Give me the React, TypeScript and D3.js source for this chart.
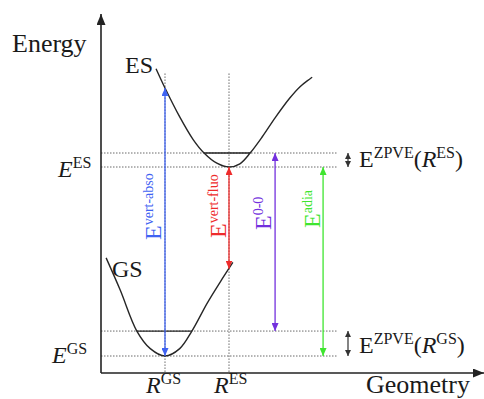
import React from "react";
import * as d3 from "d3";

// ---- data (geometry units, energy units) ----
const rGS = 1.0;
const rES = 2.0;
const levelNames = ["E_GS", "ZPVE_GS", "E_ES", "ZPVE_ES"];
const levelValues = [0, 1.32, 10, 10.74];

const esCurveX = [0.86, 1.0, 1.23, 1.44, 1.61, 1.81, 2.0, 2.17, 2.33, 2.52, 2.72, 2.95, 3.11, 3.3];
const esCurveY = [15.2, 14.18, 12.65, 11.45, 10.74, 10.2, 10.0, 10.17, 10.74, 11.6, 12.6, 13.65, 14.25, 14.75];

const gsCurveX = [0.08, 0.3, 0.56, 0.77, 1.0, 1.23, 1.42, 1.66, 1.86, 2.06];
const gsCurveY = [5.19, 3.49, 1.32, 0.39, 0.0, 0.39, 1.32, 2.8, 3.9, 4.95];

const transitionNames = ["vert-abso", "vert-fluo", "0-0", "adia"];
const transitionX = [1.0, 2.0, 2.72, 3.47];
const transitionFrom = [0, 4.62, 1.32, 0];
const transitionTo = [14.18, 10, 10.74, 10];
const transitionColors = ["#3f63f2", "#ee2b2b", "#7330dd", "#3fe52f"];

const W = 484;
const H = 399;
const FONT = "'Liberation Serif', 'Times New Roman', serif";

export default function App() {
  const x = d3.scaleLinear().domain([0, 5.9375]).range([101, 481]);
  const y = d3.scaleLinear().domain([0, 10]).range([356, 167]);

  const lvl = (n: string) => levelValues[levelNames.indexOf(n)];
  const line = d3
    .line<[number, number]>()
    .x((d) => x(d[0]))
    .y((d) => y(d[1]))
    .curve(d3.curveCatmullRom.alpha(0.5));

  const esPts = esCurveX.map((v, i) => [v, esCurveY[i]] as [number, number]);
  const gsPts = gsCurveX.map((v, i) => [v, gsCurveY[i]] as [number, number]);

  const axisX0 = x(0);
  const axisY0 = y(-0.9);
  const dotEnd = x(3.7);

  // zpve solid segments (between curve crossings)
  const esZpveX = [1.61, 2.33];
  const gsZpveX = [0.56, 1.42];

  const labelPos = [
    { bx: 161, by: 240 },
    { bx: 226, by: 238 },
    { bx: 271, by: 230 },
    { bx: 320, by: 228 },
  ];

  const curveStroke = "#262626";
  const dotStroke = "#6a6a6a";

  return (
    <svg
      width={W}
      height={H}
      style={{ position: "absolute", left: 0, top: 0, background: "#fff" }}
      fontFamily={FONT}
    >
      <defs>
        {transitionColors.map((c, i) => (
          <marker
            key={i}
            id={`ah${i}`}
            markerUnits="userSpaceOnUse"
            markerWidth={8}
            markerHeight={7}
            refX={8}
            refY={3.5}
            orient="auto-start-reverse"
          >
            <path d="M0,0 L8,3.5 L0,7 z" fill={c} />
          </marker>
        ))}
        <marker
          id="ahk"
          markerUnits="userSpaceOnUse"
          markerWidth={6}
          markerHeight={6}
          refX={6}
          refY={3}
          orient="auto-start-reverse"
        >
          <path d="M0,0 L6,3 L0,6 z" fill="#333" />
        </marker>
        <marker
          id="ahaxis"
          markerUnits="userSpaceOnUse"
          markerWidth={11}
          markerHeight={9}
          refX={11}
          refY={4.5}
          orient="auto"
        >
          <path d="M0,0 L11,4.5 L0,9 z" fill="#222" />
        </marker>
      </defs>

      {/* dotted horizontal levels */}
      {levelValues.map((v, i) => (
        <line
          key={i}
          x1={axisX0}
          x2={dotEnd}
          y1={y(v)}
          y2={y(v)}
          stroke={dotStroke}
          strokeWidth={1}
          strokeDasharray="1.5,1.5"
        />
      ))}
      {/* dotted verticals */}
      {[rGS, rES].map((v, i) => (
        <line
          key={i}
          x1={x(v)}
          x2={x(v)}
          y1={y(14.95)}
          y2={axisY0}
          stroke={dotStroke}
          strokeWidth={1}
          strokeDasharray="1.5,1.5"
        />
      ))}

      {/* axes */}
      <line x1={axisX0} x2={axisX0} y1={axisY0} y2={14} stroke="#222" strokeWidth={1.6} markerEnd="url(#ahaxis)" />
      <line x1={axisX0} x2={484} y1={axisY0} y2={axisY0} stroke="#222" strokeWidth={1.6} markerEnd="url(#ahaxis)" />

      {/* curves */}
      <path d={line(esPts) || ""} fill="none" stroke={curveStroke} strokeWidth={1.4} />
      <path d={line(gsPts) || ""} fill="none" stroke={curveStroke} strokeWidth={1.4} />

      {/* zpve solid levels */}
      <line x1={x(esZpveX[0])} x2={x(esZpveX[1])} y1={y(lvl("ZPVE_ES"))} y2={y(lvl("ZPVE_ES"))} stroke={curveStroke} strokeWidth={1.3} />
      <line x1={x(gsZpveX[0])} x2={x(gsZpveX[1])} y1={y(lvl("ZPVE_GS"))} y2={y(lvl("ZPVE_GS"))} stroke={curveStroke} strokeWidth={1.3} />

      {/* transition arrows */}
      {transitionNames.map((n, i) => (
        <line
          key={n}
          x1={x(transitionX[i])}
          x2={x(transitionX[i])}
          y1={y(transitionFrom[i])}
          y2={y(transitionTo[i])}
          stroke={transitionColors[i]}
          strokeWidth={1.3}
          markerStart={`url(#ah${i})`}
          markerEnd={`url(#ah${i})`}
        />
      ))}
      {transitionNames.map((n, i) => (
        <text
          key={n}
          transform={`translate(${labelPos[i].bx},${labelPos[i].by}) rotate(-90)`}
          fill={transitionColors[i]}
          fontSize={24}
        >
          E
          <tspan dy={-8} fontSize={14}>
            {n}
          </tspan>
        </text>
      ))}

      {/* zpve double arrows */}
      <line x1={348} x2={348} y1={y(lvl("E_ES"))} y2={y(lvl("ZPVE_ES"))} stroke="#333" strokeWidth={1.2} markerStart="url(#ahk)" markerEnd="url(#ahk)" />
      <line x1={348} x2={348} y1={y(lvl("E_GS"))} y2={y(lvl("ZPVE_GS"))} stroke="#333" strokeWidth={1.2} markerStart="url(#ahk)" markerEnd="url(#ahk)" />

      {/* text labels */}
      <g fill="#1a1a1a">
        <text x={12} y={52} fontSize={26}>Energy</text>
        <text x={366} y={393} fontSize={26}>Geometry</text>
        <text x={125} y={73} fontSize={24}>ES</text>
        <text x={112} y={277} fontSize={24}>GS</text>

        <text x={58} y={177} fontSize={24}>
          <tspan fontStyle="italic">E</tspan>
          <tspan dy={-9} fontSize={16}>ES</tspan>
        </text>
        <text x={52} y={363} fontSize={24}>
          <tspan fontStyle="italic">E</tspan>
          <tspan dy={-9} fontSize={16}>GS</tspan>
        </text>

        <text x={x(rGS) - 19} y={393} fontSize={24}>
          <tspan fontStyle="italic">R</tspan>
          <tspan dy={-9} fontSize={16}>GS</tspan>
        </text>
        <text x={x(rES) - 15} y={393} fontSize={24}>
          <tspan fontStyle="italic">R</tspan>
          <tspan dy={-9} fontSize={16}>ES</tspan>
        </text>

        <text x={359} y={167} fontSize={24}>
          E<tspan dy={-9} fontSize={16}>ZPVE</tspan>
          <tspan dy={9}>(</tspan>
          <tspan fontStyle="italic">R</tspan>
          <tspan dy={-9} fontSize={16}>ES</tspan>
          <tspan dy={9}>)</tspan>
        </text>
        <text x={359} y={353} fontSize={24}>
          E<tspan dy={-9} fontSize={16}>ZPVE</tspan>
          <tspan dy={9}>(</tspan>
          <tspan fontStyle="italic">R</tspan>
          <tspan dy={-9} fontSize={16}>GS</tspan>
          <tspan dy={9}>)</tspan>
        </text>
      </g>
    </svg>
  );
}
